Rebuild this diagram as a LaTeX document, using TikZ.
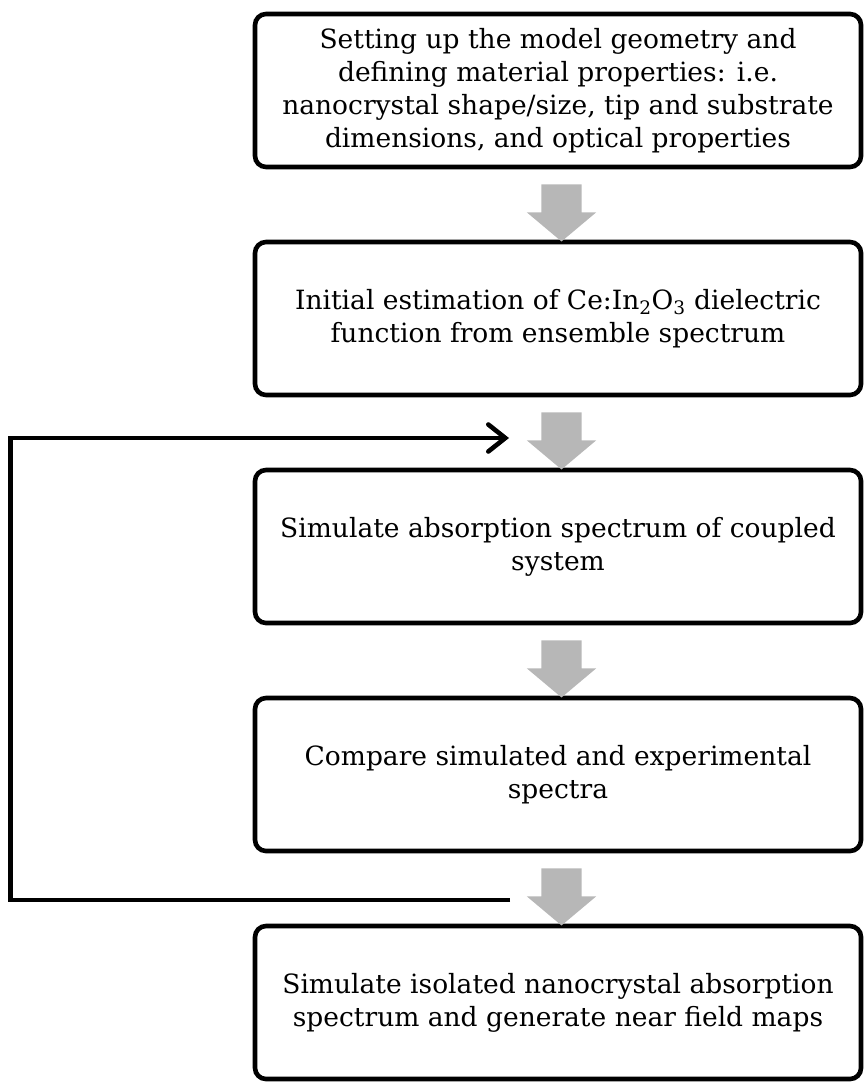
\documentclass[tikz,border=0pt]{standalone}
\usepackage{fontspec}
\setmainfont{DejaVu Serif}
\usepackage{tikz}
\usetikzlibrary{shapes,arrows,positioning,calc,arrows.meta}
\definecolor{arrowgray}{RGB}{183,183,183}

\begin{document}
\begin{tikzpicture}[x=1pt, y=-1pt,
    stepbox/.style={draw, line width=4.6pt, rounded corners=11pt, minimum width=606pt, minimum height=153pt, outer sep=0pt, align=center, font=\fontsize{26.5pt}{33pt}\selectfont},
    grayarrow/.style={single arrow, fill=arrowgray, draw=none, rotate=-90, minimum height=57pt, minimum width=69pt, single arrow head extend=14.5pt, single arrow tip angle=100, single arrow head indent=0pt, inner xsep=0pt, inner ysep=20pt, outer sep=0pt},
    feedback/.style={line width=4.6pt, -{Straight Barb[length=17pt, width=27pt, line cap=round]}}]
    \useasboundingbox (0,0) rectangle (864,1083);

    \node [stepbox] (setup) at (558,90.5) {Setting up the model geometry and\\ defining material properties: i.e.\\ nanocrystal shape/size, tip and substrate\\ dimensions, and optical properties};
    \node [stepbox, below=75pt of setup] (estimate) {Initial estimation of Ce:In\textsubscript{2}O\textsubscript{3} dielectric\\ function from ensemble spectrum};
    \node [stepbox, below=75pt of estimate] (coupled) {Simulate absorption spectrum of coupled\\ system};
    \node [stepbox, below=75pt of coupled] (compare) {Compare simulated and experimental\\ spectra};
    \node [stepbox, below=75pt of compare] (isolated) {Simulate isolated nanocrystal absorption\\ spectrum and generate near field maps};

    \node [grayarrow] (arr1) at ($(setup.south)!0.5!(estimate.north)+(3.5,0)$) {};
    \node [grayarrow] (arr2) at ($(estimate.south)!0.5!(coupled.north)+(3.5,0)$) {};
    \node [grayarrow] (arr3) at ($(coupled.south)!0.5!(compare.north)+(3.5,0)$) {};
    \node [grayarrow] (arr4) at ($(compare.south)!0.5!(isolated.north)+(3.5,0)$) {};

    \coordinate (loopout) at ($(compare.south)+(-48,49)$);
    \coordinate (loopin) at ($(estimate.south)+(-49,43)$);
    \coordinate (loopleft) at (10.5,0);
    \draw [feedback] (loopout) -- (loopout -| loopleft) |- (loopin);
\end{tikzpicture}
\end{document}
